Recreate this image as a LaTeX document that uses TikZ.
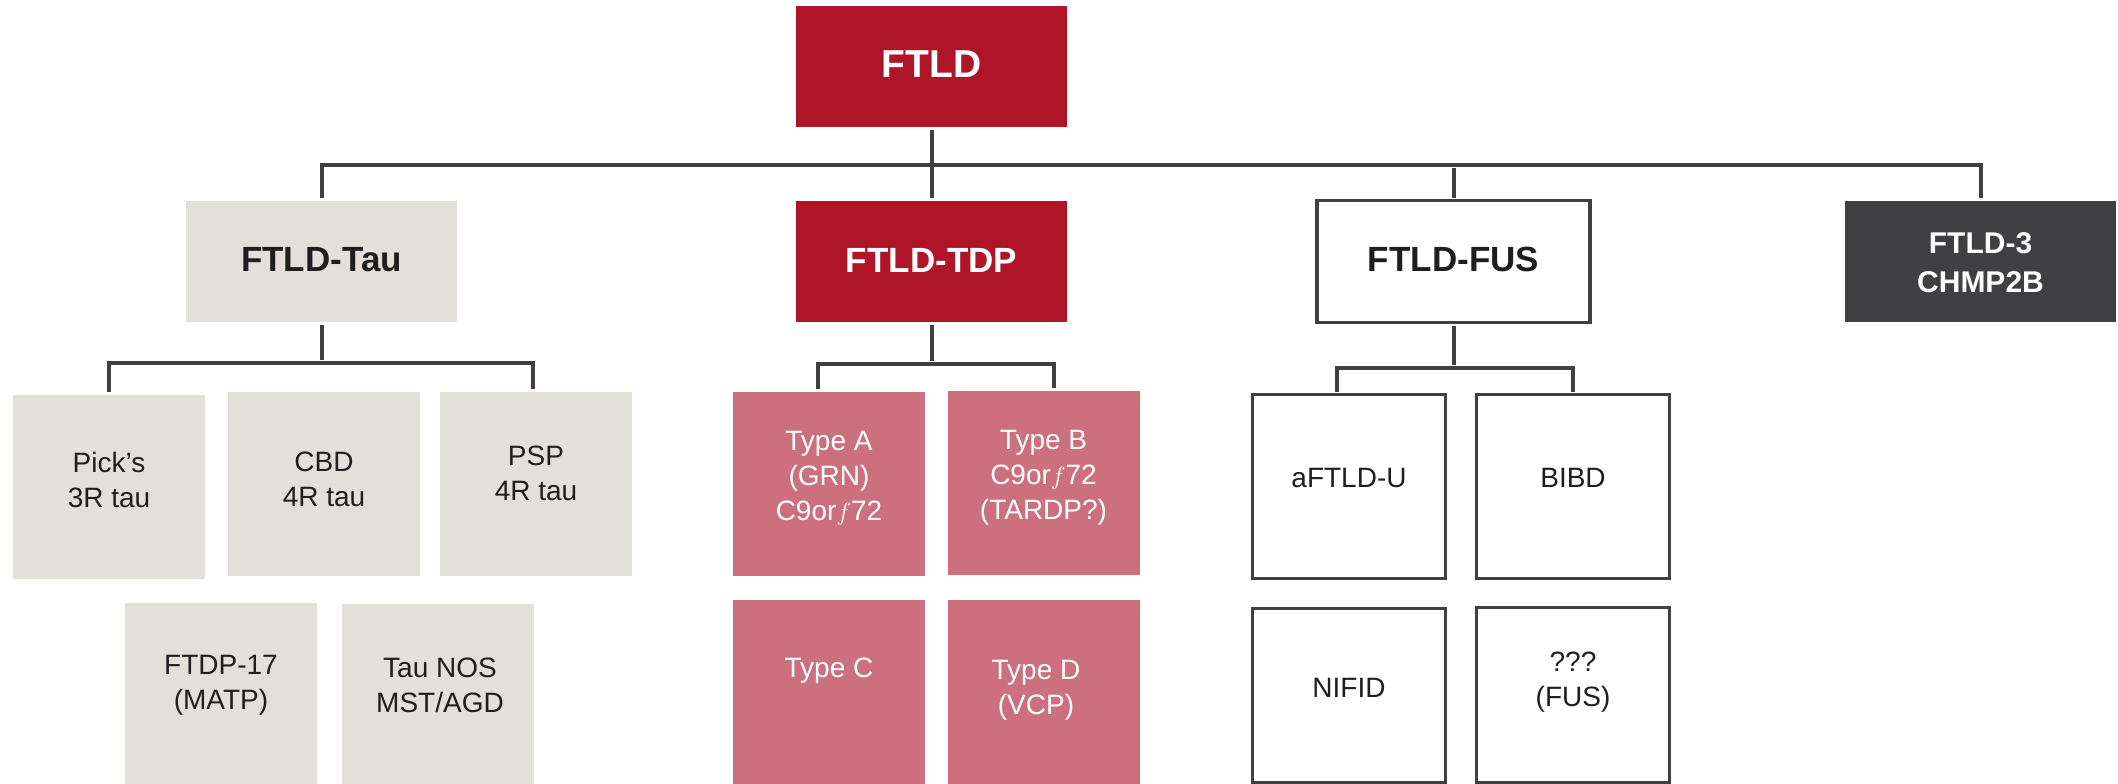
\documentclass[tikz,border=0pt]{standalone}
\usepackage{fontspec}
\setmainfont{Liberation Sans}
\definecolor{ftldred}{HTML}{AF1429}
\definecolor{taugray}{HTML}{E3DFD9}
\definecolor{tdppink}{HTML}{CC707D}
\definecolor{darkbox}{HTML}{404042}
\definecolor{linegray}{HTML}{404040}
\definecolor{txtdark}{HTML}{1E1E1E}
\tikzset{
  topbox/.style={rectangle, minimum width=271pt, minimum height=121pt, inner sep=0pt, outer sep=0pt},
  subbox/.style={rectangle, minimum width=192pt, minimum height=184pt, inner sep=0pt, outer sep=0pt},
  outlsub/.style={rectangle, minimum width=193pt, draw=linegray, line width=3pt, fill=white, inner sep=0pt, outer sep=0pt},
  redfill/.style={fill=ftldred},
  taufill/.style={fill=taugray},
  pinkfill/.style={fill=tdppink},
  darkfill/.style={fill=darkbox},
  conn/.style={draw=linegray, line width=4pt, shorten <=3pt, shorten >=3pt},
  headtxt/.style={font=\fontsize{35}{40}\selectfont\bfseries, align=center, inner sep=0pt},
  subtxt/.style={font=\fontsize{28}{35}\selectfont, align=center, inner sep=0pt},
}
\begin{document}
\begin{tikzpicture}[x=1pt,y=-1pt]
\useasboundingbox (0,0) rectangle (2118,784);
\clip (0,0) rectangle (2118,784);

% top level boxes
\node[topbox, redfill] (ftld) at (931.5,66.5) {};
\node[topbox, taufill] (tau) at (321.5,261.5) {};
\node[topbox, redfill] (tdp) at (931.5,261.5) {};
\node[rectangle, minimum width=273pt, minimum height=122pt, draw=linegray, line width=3.5pt, fill=white, inner sep=0pt, outer sep=0pt] (fus) at (1453.5,261.5) {};
\node[topbox, darkfill] (f3) at (1980.5,261.5) {};

\node[headtxt, white, font=\fontsize{39}{44}\selectfont\bfseries] (ftldt) at (931.5,64) {FTLD};
\node[headtxt, txtdark] (taut) at (321.5,260) {FTLD-Tau};
\node[headtxt, white] (tdpt) at (931.5,260) {FTLD-TDP};
\node[headtxt, txtdark] (fust) at (1453.5,259) {FTLD-FUS};
\node[headtxt, white, font=\fontsize{30}{39}\selectfont\bfseries] (f3t) at (1980.5,262.5) {FTLD-3\\CHMP2B};

% Tau sub boxes
\node[subbox, taufill] (pick) at (109,487) {};
\node[subbox, taufill] (cbd) at (324,484) {};
\node[subbox, taufill] (psp) at (536,484) {};
\node[subbox, taufill] (ftdp) at (221,695) {};
\node[subbox, taufill] (taunos) at (438,696) {};
\node[subtxt, txtdark] (pickt) at (109,480) {Pick's\\3R tau};
\node[subtxt, txtdark] (cbdt) at (324,479) {CBD\\4R tau};
\node[subtxt, txtdark] (pspt) at (536,473) {PSP\\4R tau};
\node[subtxt, txtdark] (ftdpt) at (221,685) {FTDP-17\\(MATP)};
\node[subtxt, txtdark] (taunost) at (440,685) {Tau NOS\\MST/AGD};

% TDP sub boxes
\node[subbox, pinkfill] (typea) at (829,484) {};
\node[subbox, pinkfill] (typeb) at (1043.5,483) {};
\node[subbox, pinkfill] (typec) at (829,692) {};
\node[subbox, pinkfill] (typed) at (1043.5,692) {};
\node[subtxt, white] (typeat) at (829,478) {Type A\\(GRN)\\C9or$f$72};
\node[subtxt, white] (typebt) at (1043.5,478) {Type B\\C9or$f$72\\(TARDP?)};
\node[subtxt, white] (typect) at (829,671) {Type C};
\node[subtxt, white] (typedt) at (1036,690) {Type D\\(VCP)};

% FUS sub boxes
\node[outlsub, minimum height=184pt] (aftld) at (1349,486.5) {};
\node[outlsub, minimum height=184pt] (bibd) at (1573,486.5) {};
\node[outlsub, minimum height=174pt] (nifid) at (1349,695.5) {};
\node[outlsub, minimum height=175pt] (qqq) at (1573,695) {};
\node[subtxt, txtdark] (aftldt) at (1349,478) {aFTLD-U};
\node[subtxt, txtdark] (bibdt) at (1573,478) {BIBD};
\node[subtxt, txtdark] (nifidt) at (1349,688) {NIFID};
\node[subtxt, txtdark] (qqqt) at (1573,682) {???\\(FUS)};

% bus coordinates
\coordinate (bus) at (0,165);
\coordinate (taubus) at (0,363);
\coordinate (tdpbus) at (0,364);
\coordinate (fusbus) at (0,368);
% drop points (as in the reference, not always at box centres)
\coordinate (pspdrop) at ([xshift=-3pt]psp.north);
\coordinate (tdpleft) at ([xshift=-11pt]typea.north);
\coordinate (tdpright) at ([xshift=10pt]typeb.north);
\coordinate (fusleft) at ([xshift=-12pt]aftld.north);

% connectors, top level
\draw[conn] (ftld.south) -- (tdp.north);
\draw[conn] (tau.north) -- (tau.north |- bus) -- (f3.north |- bus) -- (f3.north);
\draw[conn] (fus.north |- bus) -- (fus.north);

% connectors, Tau
\draw[conn] (tau.south) -- (tau.south |- taubus);
\draw[conn] (pick.north) -- (pick.north |- taubus) -- (pspdrop |- taubus) -- (pspdrop);

% connectors, TDP
\draw[conn] (tdp.south) -- (tdp.south |- tdpbus);
\draw[conn] (tdpleft) -- (tdpleft |- tdpbus) -- (tdpright |- tdpbus) -- (tdpright);

% connectors, FUS
\draw[conn] (fus.south) -- (fus.south |- fusbus);
\draw[conn] (fusleft) -- (fusleft |- fusbus) -- (bibd.north |- fusbus) -- (bibd.north);
\end{tikzpicture}
\end{document}
